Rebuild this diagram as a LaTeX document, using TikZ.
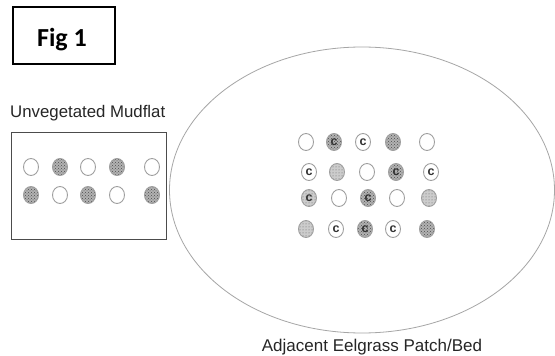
\documentclass[tikz,border=0pt]{standalone}
\usepackage{fontspec}
\setmainfont{Liberation Sans}
\newfontfamily\figfont{Carlito}
\usetikzlibrary{patterns,shapes.geometric}
\begin{document}
\begin{tikzpicture}[x=1pt,y=-1pt,
  spot/.style={ellipse, draw=gray!75, line width=0.9pt, minimum width=15pt, minimum height=17pt, inner sep=0pt,
    font=\bfseries\fontsize{12.5}{12.5}\selectfont, text=black!80},
  emp/.style={spot, fill=white},
  drk/.style={spot, preaction={fill=gray!60}, pattern=crosshatch dots, pattern color=gray!60!black},
  lgt/.style={spot, preaction={fill=gray!40}, pattern=dots, pattern color=gray!80!black},
  lbl/.style={font=\fontsize{16.8}{16.8}\selectfont, text=black!85, inner sep=0pt}
]
\fill[white] (0,0) rectangle (555,356);
\useasboundingbox (0,0) rectangle (555,356);

% Fig 1 box
\draw[black, line width=1.3pt] (13,7) rectangle (115,64);
\node[anchor=base, inner sep=0pt, font=\figfont\bfseries\fontsize{26}{26}\selectfont] (fig) at (62,46) {Fig 1};

% Mudflat
\node[lbl, anchor=base west] (mudlbl) at (10,117) {Unvegetated Mudflat};
\draw[gray!60!black, line width=0.8pt] (11,132) rectangle (166,239);
\node[emp] (m1) at (31,167) {};
\node[drk] (m2) at (60,167) {};
\node[emp] (m3) at (88,167) {};
\node[drk] (m4) at (117,167) {};
\node[emp] (m5) at (152,167) {};
\node[drk] (m6) at (31,195) {};
\node[emp] (m7) at (60,195) {};
\node[drk] (m8) at (88,195) {};
\node[emp] (m9) at (117,195) {};
\node[drk] (m10) at (152,195) {};

% Eelgrass bed
\draw[gray!70, line width=0.8pt] (362,190) ellipse [x radius=192.5, y radius=143];
\node[lbl, anchor=base, font=\fontsize{17}{17}\selectfont] (bedlbl) at (372,351) {Adjacent Eelgrass Patch/Bed};

\node[emp] (e1) at (306,142) {};
\node[drk] (e2) at (334,142) {c};
\node[emp] (e3) at (363,142) {c};
\node[drk] (e4) at (393,142) {};
\node[emp] (e5) at (427,142) {};

\node[emp] (e6) at (309,172) {c};
\node[lgt] (e7) at (337,172) {};
\node[emp] (e8) at (367,172) {};
\node[drk] (e9) at (396,172) {c};
\node[emp] (e10) at (431,172) {c};

\node[lgt] (e11) at (309,198) {c};
\node[emp] (e12) at (339,198) {};
\node[drk] (e13) at (368,198) {c};
\node[emp] (e14) at (397,198) {};
\node[lgt] (e15) at (429,198) {};

\node[lgt] (e16) at (306,229) {};
\node[emp] (e17) at (336,229) {c};
\node[drk] (e18) at (365,229) {c};
\node[emp] (e19) at (393,229) {c};
\node[drk] (e20) at (427,229) {};
\end{tikzpicture}
\end{document}
